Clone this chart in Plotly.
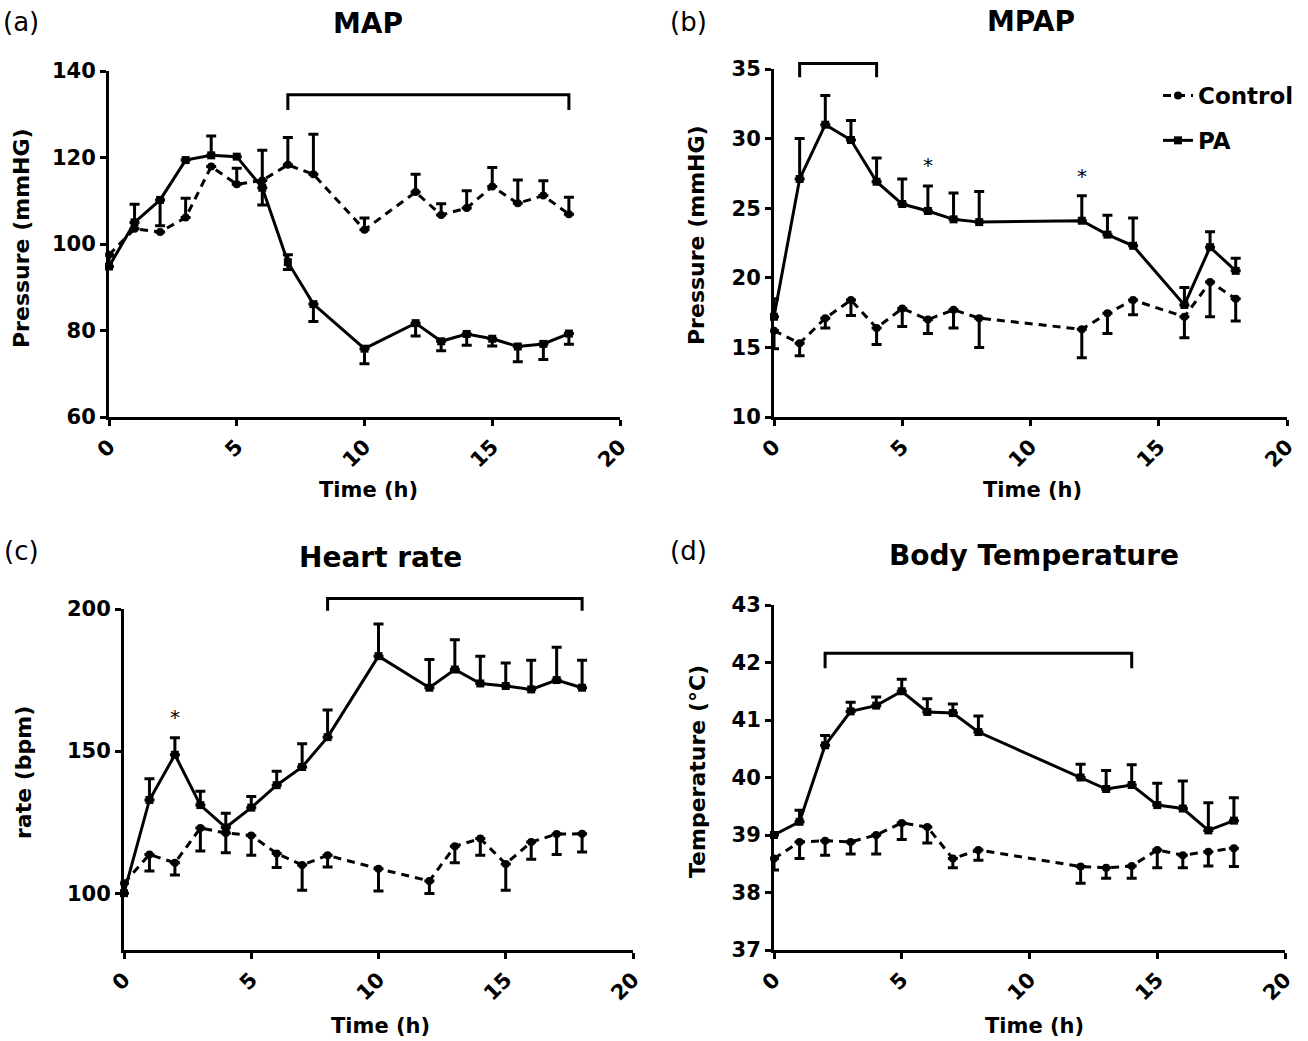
import plotly.graph_objects as go

W, H = 1308, 1041
FONT = "DejaVu Sans"

# ---------------- data ----------------
# (a) MAP
t_map = [0, 1, 2, 3, 4, 5, 6, 7, 8, 10, 12, 13, 14, 15, 16, 17, 18]
map_pa = [94.8, 105, 110.2, 119.4, 120.5, 120.2, 113, 95.8, 86.1, 75.8, 81.7, 77.5, 79.2, 78.1, 76.3, 76.9, 79.3]
map_pa_up = [2.5, 4.2, 0, 0, 4.5, 0, 0, 1.7, 0, 0, 0, 0, 0, 0, 0, 0, 0]
map_pa_dn = [0, 0, 6, 0, 0, 0, 4, 1.7, 4, 3.5, 3, 2.2, 2.6, 1.7, 3.5, 3.6, 2.5]
map_ctl = [97.5, 103.5, 102.8, 106.1, 117.9, 113.8, 114.7, 118.3, 116.1, 103.3, 112, 106.7, 108.3, 113.3, 109.4, 111.2, 106.9]
map_ctl_up = [0, 0, 0, 4.5, 0, 3.7, 7, 6.3, 9.3, 2.7, 4.1, 2.6, 4, 4.4, 5.4, 3.4, 3.9]
map_ctl_dn = [0] * 17

# (b) MPAP
t_mpap = [0, 1, 2, 3, 4, 5, 6, 7, 8, 12, 13, 14, 16, 17, 18]
mpap_pa = [17.2, 27.1, 31.0, 29.9, 26.9, 25.3, 24.8, 24.2, 24.0, 24.1, 23.1, 22.3, 18.05, 22.2, 20.5]
mpap_pa_up = [1.3, 2.9, 2.1, 1.4, 1.7, 1.8, 1.8, 1.9, 2.2, 1.8, 1.4, 2.0, 1.25, 1.1, 0.9]
mpap_pa_dn = [0] * 15
mpap_ctl = [16.2, 15.3, 17.1, 18.4, 16.4, 17.8, 17.0, 17.7, 17.1, 16.3, 17.45, 18.4, 17.2, 19.7, 18.5]
mpap_ctl_up = [0] * 15
mpap_ctl_dn = [1.3, 0.9, 0.7, 1.1, 1.2, 1.3, 1.0, 1.3, 2.1, 2.05, 1.45, 1.05, 1.5, 2.5, 1.6]

# (c) Heart rate
t_hr = [0, 1, 2, 3, 4, 5, 6, 7, 8, 10, 12, 13, 14, 15, 16, 17, 18]
hr_pa = [100, 132.8, 148.7, 131.0, 123.1, 130.1, 138.0, 144.4, 154.9, 183.4, 172.3, 178.7, 173.8, 172.9, 171.7, 175.0, 172.3]
hr_pa_up = [0, 7.5, 6, 4.9, 5, 3.9, 4.9, 8.2, 9.6, 11.3, 9.9, 10.5, 9.6, 8.1, 10.3, 11.5, 9.7]
hr_pa_dn = [0] * 17
hr_ctl = [103.5, 113.6, 110.7, 122.9, 121.2, 120.3, 114.0, 109.9, 113.3, 108.6, 104.3, 116.5, 119.2, 110.3, 118.0, 120.8, 120.9]
hr_ctl_up = [0] * 17
hr_ctl_dn = [0, 5.8, 4.3, 8.1, 7, 7, 5, 8.9, 4.1, 7.8, 4.4, 5.8, 5.9, 9.3, 6.1, 7.2, 6.4]

# (d) Body temperature
t_temp = [0, 1, 2, 3, 4, 5, 6, 7, 8, 12, 13, 14, 15, 16, 17, 18]
temp_pa = [39.0, 39.23, 40.56, 41.15, 41.25, 41.5, 41.14, 41.12, 40.79, 40.0, 39.8, 39.87, 39.52, 39.46, 39.08, 39.25]
temp_pa_up = [0, 0.2, 0.17, 0.16, 0.15, 0.21, 0.23, 0.16, 0.28, 0.23, 0.32, 0.35, 0.38, 0.48, 0.48, 0.4]
temp_pa_dn = [0] * 16
temp_ctl = [38.59, 38.88, 38.9, 38.88, 39.0, 39.21, 39.14, 38.59, 38.74, 38.45, 38.43, 38.46, 38.74, 38.65, 38.71, 38.77]
temp_ctl_up = [0] * 16
temp_ctl_dn = [0.2, 0.29, 0.25, 0.21, 0.33, 0.29, 0.28, 0.16, 0.18, 0.29, 0.18, 0.21, 0.31, 0.22, 0.25, 0.32]

# significance brackets: [start, end], level, tick bottom
brk_map = ([7, 18], 134.5, 131.0)
brk_mpap = ([1, 4], 35.4, 34.4)
brk_hr = ([8, 18], 203.7, 199.4)
brk_temp = ([2, 14], 42.16, 41.9)

# asterisks (time, level)
star_mpap = [(6, 28.1), (12, 27.3)]
star_hr = [(2, 162.0)]

titles = ["MAP", "MPAP", "Heart rate", "Body Temperature"]
labels = ["(a)", "(b)", "(c)", "(d)"]
ytitles = ["Pressure (mmHG)", "Pressure (mmHG)", "rate (bpm)", "Temperature (°C)"]
yranges = [[60, 140], [10, 35], [80, 200], [37, 43]]
yticks = [[60, 80, 100, 120, 140], [10, 15, 20, 25, 30, 35], [100, 150, 200], [37, 38, 39, 40, 41, 42, 43]]
xticks = [0, 5, 10, 15, 20]

# ---------------- layout geometry (pixels) ----------------
plot_px = [  # left, right, top, bottom
    (109, 620, 71, 417),
    (774, 1287, 69, 417),
    (124, 633, 609, 950),
    (774, 1285, 605, 950),
]
title_px = [(368, 24), (1031, 21), (381, 557), (1034, 555)]
label_px = [(21, 22), (688, 22), (21, 551), (688, 551)]
xtitle_px = [(368, 490), (1032, 490), (380, 1026), (1034, 1026)]
ytitle_px = [(22, 238), (696, 235), (23, 773), (698, 772)]
legend_px = (1158, 74)

def px(x):
    return x / W

def py(y):
    return 1 - y / H

def dom(v, rng):
    return (v - rng[0]) / (rng[1] - rng[0])

fig = go.Figure()

series = [
    (t_map, map_ctl, map_ctl_up, map_ctl_dn, map_pa, map_pa_up, map_pa_dn),
    (t_mpap, mpap_ctl, mpap_ctl_up, mpap_ctl_dn, mpap_pa, mpap_pa_up, mpap_pa_dn),
    (t_hr, hr_ctl, hr_ctl_up, hr_ctl_dn, hr_pa, hr_pa_up, hr_pa_dn),
    (t_temp, temp_ctl, temp_ctl_up, temp_ctl_dn, temp_pa, temp_pa_up, temp_pa_dn),
]

bold = dict(family=FONT, color="black", weight="bold")

for i, (t, c, cu, cd, p, pu, pd) in enumerate(series):
    sfx = "" if i == 0 else str(i + 1)
    xa, ya = "x" + sfx, "y" + sfx
    fig.add_trace(go.Scatter(
        x=t, y=c, xaxis=xa, yaxis=ya, mode="lines+markers", name="Control",
        legendgroup="ctl", showlegend=(i == 1), cliponaxis=False,
        line=dict(color="black", width=3, dash="8px,6px"),
        marker=dict(symbol="circle", size=8, color="black"),
        error_y=dict(type="data", symmetric=False, array=cu, arrayminus=cd,
                     color="black", thickness=3, width=5),
    ))
    fig.add_trace(go.Scatter(
        x=t, y=p, xaxis=xa, yaxis=ya, mode="lines+markers", name="PA",
        legendgroup="pa", showlegend=(i == 1), cliponaxis=False,
        line=dict(color="black", width=3),
        marker=dict(symbol="square", size=8, color="black"),
        error_y=dict(type="data", symmetric=False, array=pu, arrayminus=pd,
                     color="black", thickness=3, width=5),
    ))

layout = dict(
    width=W, height=H, margin=dict(l=0, r=0, t=0, b=0, autoexpand=False),
    paper_bgcolor="white", plot_bgcolor="white",
    showlegend=True, hovermode=False,
    legend=dict(x=px(legend_px[0]), y=py(legend_px[1]), xref="container", yref="container",
                xanchor="left", yanchor="top",
                font=dict(family=FONT, size=23, color="black", weight="bold"),
                bgcolor="rgba(0,0,0,0)", traceorder="grouped", tracegroupgap=12,
                itemwidth=30),
)

axis_common = dict(showline=True, linewidth=3, linecolor="black", ticks="outside",
                   ticklen=6, tickwidth=3, tickcolor="black", showgrid=False,
                   zeroline=False, automargin=False, tickfont=dict(size=21, **bold))

annotations = []
shapes = []
brks = [brk_map, brk_mpap, brk_hr, brk_temp]
stars = [[], star_mpap, star_hr, []]

for i in range(4):
    sfx = "" if i == 0 else str(i + 1)
    l, r, tp, bt = plot_px[i]
    layout["xaxis" + sfx] = dict(axis_common, domain=[px(l), px(r)], range=[0, 20],
                                 tickvals=xticks, tickangle=-45, anchor="y" + sfx)
    layout["yaxis" + sfx] = dict(axis_common, domain=[py(bt), py(tp)], range=yranges[i],
                                 tickvals=yticks[i], anchor="x" + sfx)
    annotations.append(dict(text=titles[i], x=px(title_px[i][0]), y=py(title_px[i][1]),
                            xref="paper", yref="paper", showarrow=False,
                            xanchor="center", yanchor="middle", font=dict(size=28, **bold)))
    annotations.append(dict(text=labels[i], x=px(label_px[i][0]), y=py(label_px[i][1]),
                            xref="paper", yref="paper", showarrow=False,
                            xanchor="center", yanchor="middle",
                            font=dict(family=FONT, size=26, color="black")))
    annotations.append(dict(text="Time (h)", x=px(xtitle_px[i][0]), y=py(xtitle_px[i][1]),
                            xref="paper", yref="paper", showarrow=False,
                            xanchor="center", yanchor="middle", font=dict(size=21, **bold)))
    annotations.append(dict(text=ytitles[i], x=px(ytitle_px[i][0]), y=py(ytitle_px[i][1]),
                            xref="paper", yref="paper", showarrow=False, textangle=-90,
                            xanchor="center", yanchor="middle", font=dict(size=22, **bold)))
    (x0, x1), lev, low = brks[i]
    rng = yranges[i]
    shapes.append(dict(type="path", xref="x" + sfx, yref="y" + sfx + " domain",
                       path=f"M {x0},{dom(low, rng)} L {x0},{dom(lev, rng)} L {x1},{dom(lev, rng)} L {x1},{dom(low, rng)}",
                       line=dict(color="black", width=3)))
    for (st, sy) in stars[i]:
        annotations.append(dict(text="*", x=st, y=sy, xref="x" + sfx, yref="y" + sfx,
                                showarrow=False, xanchor="center", yanchor="middle",
                                font=dict(family=FONT, size=20, color="black")))

layout["annotations"] = annotations
layout["shapes"] = shapes
fig.update_layout(**layout)

# remove the default 8px page margin so the figure sits at the window's top-left corner
fig.write_html("out.html", config={"displayModeBar": False, "staticPlot": True},
               post_script="document.body.style.margin='0px';")
